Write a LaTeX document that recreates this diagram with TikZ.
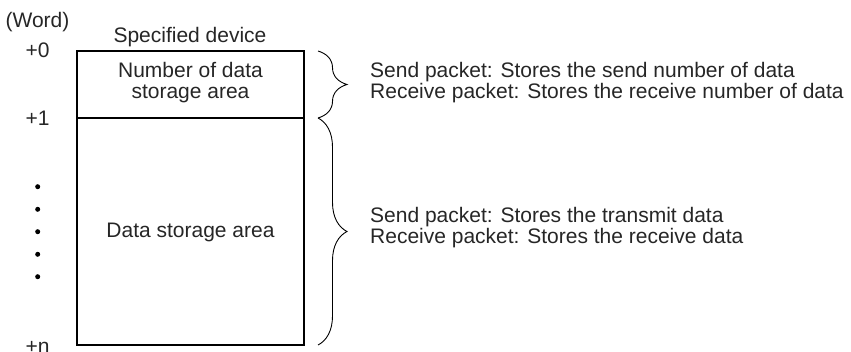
\documentclass[tikz,border=0pt]{standalone}
\usepackage{fontspec}
\setmainfont{Liberation Sans}
\usetikzlibrary{decorations.pathreplacing}
\begin{document}
\begin{tikzpicture}[x=1pt,y=-1pt,
  txt/.style={font=\fontsize{21}{21}\selectfont, inner sep=0pt, text=black!85},
  lbl/.style={txt, align=left, anchor=west},
  area/.style={draw=black, line width=1.3pt},
  brc/.style={draw=black, line width=0.9pt, decorate, decoration={brace, amplitude=29pt}},
  dotm/.style={circle, fill=black, inner sep=0pt, minimum size=5pt}]
\useasboundingbox (0,0) rectangle (851,351);
% box
\draw[area] (77,51) rectangle (304,345);
\draw[area] (77,118) -- (304,118);
\node[txt, align=center] (n1) at (190.5,83) {Number of data\\storage area};
\node[txt] (n2) at (190.5,232) {Data storage area};
\node[txt] (sd) at (190,37) {Specified device};
\node[txt] (wd) at (37.5,22) {(Word)};
\node[txt] (p0) at (37.5,50) {+0};
\node[txt] (p1) at (37.5,118) {+1};
\node[txt] (pn) at (37.5,347) {+n};
\foreach \y/\k in {186.7/a,209.3/b,231.7/c,254.3/d,276.7/e} \node[dotm] (d\k) at (37.7,\y) {};
% braces
\coordinate (b1s) at (318,51);
\coordinate (b1e) at (318,118);
\coordinate (b2s) at (318,118);
\coordinate (b2e) at (318,345);
\draw[brc] (b1s) -- (b1e);
\draw[brc] (b2s) -- (b2e);
\node[lbl] (t1) at (370,83) {Send packet: Stores the send number of data\\Receive packet: Stores the receive number of data};
\node[lbl] (t2) at (370,228) {Send packet: Stores the transmit data\\Receive packet: Stores the receive data};
\end{tikzpicture}
\end{document}
